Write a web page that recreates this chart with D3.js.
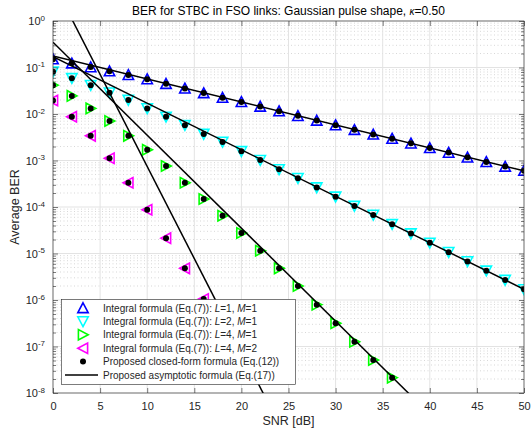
<!DOCTYPE html>
<html>
<head>
<meta charset="utf-8">
<script src="https://cdn.jsdelivr.net/npm/d3@7"></script>
<style>
  body { margin: 0; background: #fff; }
  svg { font-family: "Liberation Sans", Arial, sans-serif; }
</style>
</head>
<body>
<svg width="532" height="431"></svg>
<script>
// SNR points (dB) where the curves were evaluated
const snrAll = [0, 2, 4, 6, 8, 10, 12, 14, 16, 18, 20, 22, 24, 26, 28, 30, 32, 34, 36, 38, 40, 42, 44, 46, 48, 50];

// Average BER, integral formula / closed-form (they coincide)
const berL1M1 = [0.151, 0.123, 0.102, 0.0832, 0.0692, 0.0562, 0.0447, 0.0355, 0.0282, 0.0224,
  0.0182, 0.0145, 0.0115, 9.12e-3, 7.24e-3, 5.75e-3, 4.57e-3, 3.63e-3, 2.95e-3, 2.34e-3,
  1.86e-3, 1.48e-3, 1.17e-3, 9.33e-4, 7.41e-4, 6.03e-4];
const berL2M1 = [0.0813, 0.0589, 0.0417, 0.0288, 0.0200, 0.0132, 8.71e-3, 5.75e-3, 3.72e-3, 2.51e-3,
  1.58e-3, 1.02e-3, 6.46e-4, 4.17e-4, 2.63e-4, 1.66e-4, 1.05e-4, 6.76e-5, 4.27e-5, 2.69e-5,
  1.70e-5, 1.07e-5, 6.76e-6, 4.27e-6, 2.69e-6, 1.70e-6];
const berL4M1 = [0.0417, 0.0245, 0.0132, 7.08e-3, 3.39e-3, 1.70e-3, 7.59e-4, 3.31e-4, 1.48e-4, 6.46e-5,
  2.75e-5, 1.15e-5, 4.79e-6, 2.00e-6, 7.94e-7, 3.16e-7, 1.26e-7, 5.13e-8, 2.14e-8];
const berL4M2 = [0.0195, 8.71e-3, 3.39e-3, 1.12e-3, 3.31e-4, 8.71e-5, 2.14e-5, 4.79e-6, 1.05e-6, 2.24e-7, 4.68e-8];

// Asymptotic lines: [snr, ber] end points
const asymL1M1 = [[0, 0.178], [50, 6.0e-4]];
const asymL2M1 = [[0, 0.17], [50, 1.7e-6]];
const asymL4M1 = [[0, 0.35], [40, 3.5e-9]];
const asymL4M2 = [[0, 6.8], [25, 8.5e-10]];

const xTicks = [0, 5, 10, 15, 20, 25, 30, 35, 40, 45, 50];
const yExps = [0, -1, -2, -3, -4, -5, -6, -7, -8];

const legendLabels = [
  ["Integral formula (Eq.(7)): ", "L", "=1, ", "M", "=1"],
  ["Integral formula (Eq.(7)): ", "L", "=2, ", "M", "=1"],
  ["Integral formula (Eq.(7)): ", "L", "=4, ", "M", "=1"],
  ["Integral formula (Eq.(7)): ", "L", "=4, ", "M", "=2"],
  ["Proposed closed-form formula (Eq.(12))"],
  ["Proposed asymptotic formula (Eq.(17))"]
];

var svg = d3.select("svg"),
    box = {left: 53, right: 524, top: 21, bottom: 393},
    ink = "#262626";

var x = d3.scaleLinear().domain([0, 50]).range([box.left, box.right]);
var y = d3.scaleLog().domain([1e-8, 1]).range([box.bottom, box.top]);

// minor values for log axis
var minorVals = [];
yExps.slice(1).forEach(function(e) {
  for (var k = 2; k <= 9; k++) minorVals.push(k * Math.pow(10, e));
});
var majorVals = yExps.map(e => Math.pow(10, e));

// grid
var grid = svg.append("g");
grid.selectAll(".minor").data(minorVals).enter().append("line")
  .attr("x1", box.left).attr("x2", box.right)
  .attr("y1", d => y(d)).attr("y2", d => y(d))
  .attr("stroke", "#bdbdbd").attr("stroke-width", 0.6).attr("stroke-dasharray", "1,2.5");
grid.selectAll(".hmaj").data(majorVals).enter().append("line")
  .attr("x1", box.left).attr("x2", box.right)
  .attr("y1", d => y(d)).attr("y2", d => y(d))
  .attr("stroke", "#e3e3e3").attr("stroke-width", 1);
grid.selectAll(".vmaj").data(xTicks).enter().append("line")
  .attr("y1", box.top).attr("y2", box.bottom)
  .attr("x1", d => x(d)).attr("x2", d => x(d))
  .attr("stroke", "#e3e3e3").attr("stroke-width", 1);

// marker shapes
function tri(dir) {
  var s = 5.2, h = 4.6;
  if (dir == "up") return `M0,${-s}L${s},${h}L${-s},${h}Z`;
  if (dir == "down") return `M0,${s}L${s},${-h}L${-s},${-h}Z`;
  if (dir == "right") return `M${s},0L${-h},${s}L${-h},${-s}Z`;
  return `M${-s},0L${h},${s}L${h},${-s}Z`;
}

var series = [
  {vals: berL1M1, color: "#0000ff", dir: "up"},
  {vals: berL2M1, color: "#00ffff", dir: "down"},
  {vals: berL4M1, color: "#00ff00", dir: "right"},
  {vals: berL4M2, color: "#ff00ff", dir: "left"}
];
var asyms = [asymL1M1, asymL2M1, asymL4M1, asymL4M2];

svg.append("clipPath").attr("id", "plotclip").append("rect")
  .attr("x", box.left).attr("y", box.top)
  .attr("width", box.right - box.left).attr("height", box.bottom - box.top);

var plot = svg.append("g").attr("clip-path", "url(#plotclip)");

series.forEach(function(s) {
  plot.append("g").selectAll("path").data(s.vals).enter().append("path")
    .attr("d", tri(s.dir))
    .attr("transform", (d, i) => `translate(${x(snrAll[i])},${y(d)})`)
    .attr("fill", "none").attr("stroke", s.color).attr("stroke-width", 1.6);
});
series.forEach(function(s) {
  plot.append("g").selectAll("circle").data(s.vals).enter().append("circle")
    .attr("cx", (d, i) => x(snrAll[i])).attr("cy", d => y(d)).attr("r", 3)
    .attr("fill", "#000");
});

var line = d3.line().x(d => x(d[0])).y(d => y(d[1]));
asyms.forEach(function(a) {
  plot.append("path").attr("d", line(a))
    .attr("fill", "none").attr("stroke", "#000").attr("stroke-width", 1.5);
});

// axes (ticks inward)
function styleAxis(g) {
  g.select(".domain").remove();
  g.selectAll("line").attr("stroke", ink).attr("stroke-width", 0.6);
  g.selectAll("text").attr("fill", ink).attr("font-size", 11)
    .attr("font-family", "Liberation Sans, Arial, sans-serif");
}

svg.append("g").attr("transform", `translate(0,${box.bottom})`)
  .call(d3.axisBottom(x).tickValues(xTicks).tickSizeInner(-5).tickSizeOuter(0).tickPadding(9))
  .call(styleAxis);
svg.append("g").attr("transform", `translate(0,${box.top})`)
  .call(d3.axisTop(x).tickValues(xTicks).tickSizeInner(-5).tickSizeOuter(0).tickFormat(""))
  .call(styleAxis);

var yAxisL = svg.append("g").attr("transform", `translate(${box.left},0)`)
  .call(d3.axisLeft(y).tickValues(majorVals).tickSizeInner(-5).tickSizeOuter(0).tickPadding(8).tickFormat(""))
  .call(styleAxis);
yAxisL.selectAll(".tick text").each(function(d) {
  var t = d3.select(this);
  t.text("10");
  t.append("tspan").attr("dy", "-0.55em").attr("font-size", 8).text(Math.round(Math.log10(d)));
});
svg.append("g").attr("transform", `translate(${box.left},0)`)
  .call(d3.axisLeft(y).tickValues(minorVals).tickSizeInner(-3).tickSizeOuter(0).tickFormat(""))
  .call(styleAxis);
svg.append("g").attr("transform", `translate(${box.right},0)`)
  .call(d3.axisRight(y).tickValues(majorVals).tickSizeInner(-5).tickSizeOuter(0).tickFormat(""))
  .call(styleAxis);
svg.append("g").attr("transform", `translate(${box.right},0)`)
  .call(d3.axisRight(y).tickValues(minorVals).tickSizeInner(-3).tickSizeOuter(0).tickFormat(""))
  .call(styleAxis);

// box
svg.append("rect").attr("x", box.left).attr("y", box.top)
  .attr("width", box.right - box.left).attr("height", box.bottom - box.top)
  .attr("fill", "none").attr("stroke", ink).attr("stroke-width", 0.6);

// labels
svg.append("text").attr("x", (box.left + box.right) / 2).attr("y", 425)
  .attr("text-anchor", "middle").attr("font-size", 12.5).attr("fill", ink).text("SNR [dB]");
svg.append("text").attr("transform", `translate(19,${(box.top + box.bottom) / 2}) rotate(-90)`)
  .attr("text-anchor", "middle").attr("font-size", 12.5).attr("fill", ink).text("Average BER");
var title = svg.append("text").attr("x", (box.left + box.right) / 2).attr("y", 15)
  .attr("text-anchor", "middle").attr("font-size", 12).attr("fill", "#000");
title.append("tspan").text("BER for STBC in FSO links: Gaussian pulse shape, ");
title.append("tspan").attr("font-style", "italic").attr("font-size", 10).text("κ");
title.append("tspan").text("=0.50");

// legend
var lg = svg.append("g");
lg.append("rect").attr("x", 61.5).attr("y", 299.5).attr("width", 234).attr("height", 85)
  .attr("fill", "#fff").attr("stroke", ink).attr("stroke-width", 0.6);
legendLabels.forEach(function(parts, i) {
  var cy = 308 + i * 13.4;
  if (i < 4) {
    lg.append("path").attr("d", tri(series[i].dir)).attr("transform", `translate(83,${cy})`)
      .attr("fill", "none").attr("stroke", series[i].color).attr("stroke-width", 1.6);
  } else if (i == 4) {
    lg.append("circle").attr("cx", 83).attr("cy", cy).attr("r", 3).attr("fill", "#000");
  } else {
    lg.append("line").attr("x1", 65).attr("x2", 98).attr("y1", cy).attr("y2", cy)
      .attr("stroke", "#000").attr("stroke-width", 1.5);
  }
  var t = lg.append("text").attr("x", 103).attr("y", cy + 3.6).attr("font-size", 10).attr("fill", ink);
  parts.forEach(function(p, j) {
    t.append("tspan").attr("font-style", j % 2 == 1 ? "italic" : "normal").text(p);
  });
});
</script>
</body>
</html>
